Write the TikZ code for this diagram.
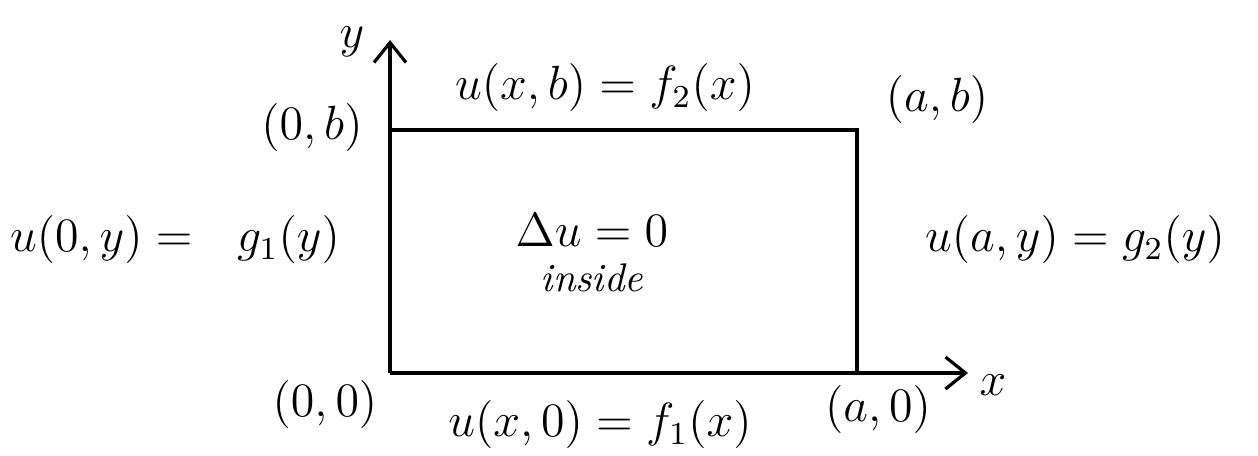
\documentclass[tikz,border=0pt]{standalone}
\usepackage{amsmath}
\usetikzlibrary{arrows.meta,positioning}

\begin{document}
\begin{tikzpicture}[x=0.25pt,y=-0.25pt,
        every node/.style={lbl},
        lbl/.style={font=\large,inner sep=1pt},
        edge/.style={line width=0.8pt},
        axis/.style={edge,-{Straight Barb[length=5pt,width=8pt]}}]
   \useasboundingbox (0,0) rectangle (1258,456);
   % corners of the box
   \coordinate (O) at (390,373);
   \coordinate (A) at (857,373);
   \coordinate (B) at (857,130);
   \coordinate (C) at (390,130);
   \coordinate (Y) at (390,40);
   \coordinate (X) at (968,373);
   \draw[edge] (O) -- (A) -- (B) -- (C);
   \draw[axis] (O) -- (Y);
   \draw[axis] (A) -- (X);

   \node (ylab) at (352,42) {$y$};
   \node (xlab) at (993,385) {$x$};
   \node (cb) at (312,128) {$(0,b)$};
   \node (ab) at (937,100) {$(a,b)$};
   \node (oo) at (325,405) {$(0,0)$};
   \node (ao) at (878,410) {$(a,0)$};

   \node (top) at (605,88) {$u(x,b)=f_2(x)$};
   \node (bot) at (600,425) {$u(x,0)=f_1(x)$};
   \node (lft) at (175,240) {$u(0,y)=\ \ g_1(y)$};
   \node (rgt) at (1075,240) {$u(a,y)=g_2(y)$};

   \node (eq) at (592,230) {$\Delta u=0$};
   \node (ins) [below = 2pt of eq, font=\normalsize\itshape] {inside};
\end{tikzpicture}
\end{document}
